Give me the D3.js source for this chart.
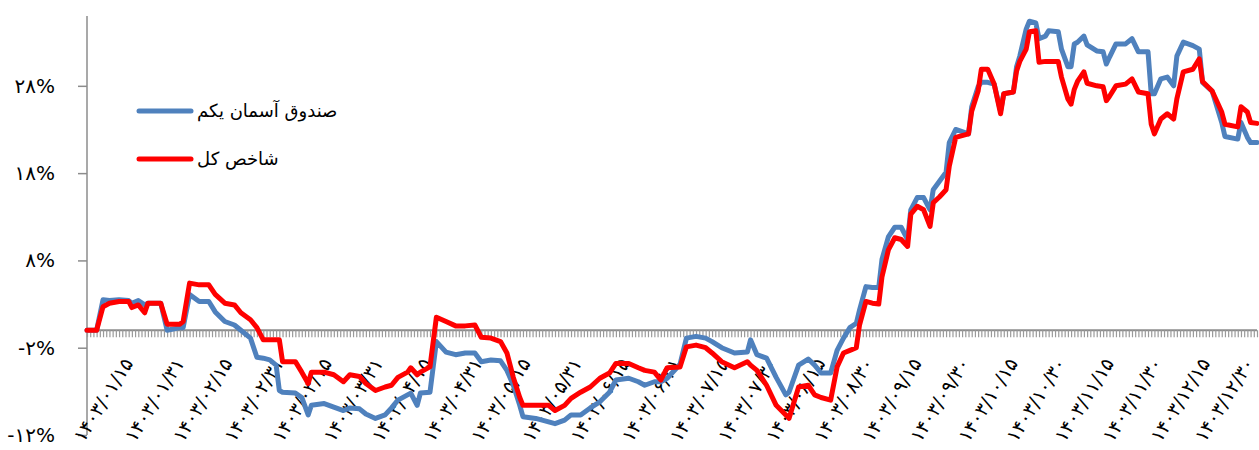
<!DOCTYPE html>
<html><head><meta charset="utf-8">
<script src="https://cdn.jsdelivr.net/npm/d3@7/dist/d3.min.js"></script>
<style>body{margin:0;background:#fff;} svg{display:block;}</style>
</head><body>
<svg id="chart" width="1259" height="450"></svg>
<script>
// Day index within year 1403 (0 = 1403/01/01 ... 365 = 1403/12/30)
const days = [0,3,5,7,10,13,14,16,18,19,23,25,29,30,32,35,38,40,43,46,48,51,53,55,57,59,60,61,65,67,69,70,74,77,80,82,85,87,90,93,95,97,100,101,103,104,107,109,112,115,118,121,123,126,129,131,133,135,136,140,144,146,149,151,154,157,160,163,165,169,172,174,177,179,181,185,187,190,193,195,198,202,206,207,209,212,215,218,219,222,225,227,229,232,234,236,238,240,241,243,245,247,248,250,252,254,256,257,259,261,263,264,266,268,269,271,275,276,278,279,281,283,285,286,289,290,291,293,294,296,297,299,300,303,304,306,307,308,309,311,312,315,317,318,319,321,324,326,328,331,332,333,335,337,339,340,342,345,347,348,351,354,355,359,360,362,363,365];
// صندوق آسمان یکم (%)
const fundValues = [0,0,3.5,3.4,3.5,3.4,3.1,3.4,2.9,3.1,3.1,0.0,0.3,0.3,4.1,3.3,3.3,2.1,1.0,0.6,0.0,-0.9,-3.1,-3.2,-3.4,-4.0,-6.9,-7.1,-7.2,-7.7,-9.7,-8.6,-8.4,-8.8,-9.2,-8.9,-9.0,-9.6,-10.1,-9.7,-8.9,-8.0,-7.4,-7.2,-8.6,-7.2,-7.1,-1.3,-2.5,-2.8,-2.6,-2.6,-3.6,-3.4,-3.5,-4.6,-6.3,-8.6,-9.9,-10.1,-10.5,-10.7,-10.3,-9.7,-9.7,-8.9,-8.2,-7.1,-5.7,-5.5,-5.9,-6.3,-5.9,-5.9,-5.5,-3.9,-0.9,-0.7,-0.9,-1.3,-2.0,-2.6,-2.5,-1.1,-2.8,-3.2,-5.4,-7.4,-7.1,-4.0,-3.3,-4.0,-4.9,-4.9,-2.3,-0.9,0.3,0.8,2.3,5.0,4.9,4.9,8.1,10.7,11.8,11.8,10.4,13.8,15.2,15.2,13.8,16.1,17.1,18.1,21.5,23.0,22.5,25.6,27.9,28.4,28.4,28.2,25.1,27.1,27.3,30.2,31.4,34.5,35.4,35.2,33.4,33.7,34.3,34.2,32.2,30.2,30.2,32.8,33.0,33.7,32.7,32.0,31.9,30.5,31.3,32.8,32.8,33.4,31.9,31.9,27.1,27.1,28.8,29.0,28.0,31.4,33.0,32.6,32.2,28.4,27.4,23.8,22.2,21.9,23.8,22.1,21.5,21.5];
// شاخص کل (%)
const indexValues = [0,0,2.7,3.1,3.3,3.3,2.6,2.9,2.0,3.1,3.1,0.7,0.7,1.0,5.4,5.2,5.2,4.1,3.1,2.9,2.0,1.2,0.3,-1.1,-1.1,-1.1,-1.1,-3.6,-3.6,-4.8,-6.1,-4.8,-4.8,-5.1,-5.9,-5.1,-5.3,-6.1,-6.9,-6.5,-6.3,-5.4,-4.8,-4.3,-5.1,-4.8,-4.2,1.5,1.0,0.5,0.5,0.6,-0.8,-0.9,-1.3,-2.6,-5.4,-7.7,-8.6,-8.6,-8.6,-9.2,-8.6,-7.8,-7.1,-6.5,-5.5,-4.9,-3.8,-3.8,-4.3,-4.6,-4.8,-5.7,-4.3,-4.2,-1.9,-1.7,-2.0,-2.6,-3.6,-4.3,-3.6,-4.0,-4.6,-6.3,-8.6,-9.7,-10.1,-6.5,-6.3,-7.4,-7.7,-8.0,-4.2,-2.6,-2.3,-2.0,0.6,3.3,3.1,3.0,6.1,9.2,10.6,10.4,9.6,13.3,14.2,13.8,11.9,14.6,15.3,16.1,18.8,22.1,22.5,25.1,27.4,29.9,29.9,28.2,24.8,27.1,27.3,29.7,30.8,32.2,34.2,34.3,30.7,30.8,30.8,30.8,29.0,26.5,25.9,27.6,28.5,29.6,28.3,28.0,27.9,26.3,26.8,28.0,28.2,28.8,27.3,27.1,23.6,22.5,24.2,24.8,24.2,26.5,29.6,29.9,31.1,28.5,27.4,25.0,23.6,23.3,25.6,25.0,23.8,23.7];
const seriesNames = ["صندوق آسمان یکم", "شاخص کل"];
const seriesColors = ["#4F81BD", "#FF0000"];
const yTicks = [-12, -2, 8, 18, 28];
const xTickDays = [14,30,45,61,76,92,107,123,138,154,169,185,200,215,230,245,260,275,290,305,320,335,350,365];
const xTickLabels = ["۱۴۰۳/۰۱/۱۵","۱۴۰۳/۰۱/۳۱","۱۴۰۳/۰۲/۱۵","۱۴۰۳/۰۲/۳۱","۱۴۰۳/۰۳/۱۵","۱۴۰۳/۰۳/۳۱","۱۴۰۳/۰۴/۱۵","۱۴۰۳/۰۴/۳۱","۱۴۰۳/۰۵/۱۵","۱۴۰۳/۰۵/۳۱","۱۴۰۳/۰۶/۱۵","۱۴۰۳/۰۶/۳۱","۱۴۰۳/۰۷/۱۵","۱۴۰۳/۰۷/۳۰","۱۴۰۳/۰۸/۱۵","۱۴۰۳/۰۸/۳۰","۱۴۰۳/۰۹/۱۵","۱۴۰۳/۰۹/۳۰","۱۴۰۳/۱۰/۱۵","۱۴۰۳/۱۰/۳۰","۱۴۰۳/۱۱/۱۵","۱۴۰۳/۱۱/۳۰","۱۴۰۳/۱۲/۱۵","۱۴۰۳/۱۲/۳۰"];

const toFa = s => String(s).replace(/\d/g, d => "۰۱۲۳۴۵۶۷۸۹"[+d]);
const FONT = "'DejaVu Sans', 'Noto Sans', sans-serif";
const AXIS = "#8c8c8c";

const svg = d3.select("#chart");
const x = d3.scaleLinear().domain([0, 365]).range([87, 1257]);
const y = d3.scaleLinear().domain([-12, 36]).range([435, 16]);

// Y axis
const yAxis = svg.append("g").attr("transform", "translate(87,0)")
  .call(d3.axisLeft(y).tickValues(yTicks).tickSize(9).tickPadding(23)
        .tickFormat(v => toFa(v) + "%"));
yAxis.select(".domain").attr("d", `M0,${y(36)}V${y(-12)}`).attr("stroke", AXIS).attr("stroke-width", 1.5);
yAxis.selectAll(".tick line").attr("stroke", AXIS).attr("stroke-width", 1.5);
yAxis.selectAll(".tick text").attr("font-family", FONT).attr("font-size", 20).attr("fill", "#000");

// X axis at zero with daily tick marks
const allDays = d3.range(0, 366);
const xAxisG = svg.append("g").attr("transform", `translate(0,${y(0)})`);
xAxisG.call(d3.axisBottom(x).tickValues(allDays).tickSize(7).tickFormat(""));
xAxisG.select(".domain").attr("d", `M${x(0)},0H${x(365)}`).attr("stroke", AXIS).attr("stroke-width", 2);
xAxisG.selectAll(".tick line").attr("stroke", "#9a9a9a").attr("stroke-width", 1.2);

// X tick labels (rotated)
const xl = svg.append("g");
xTickDays.forEach((d, i) => {
  const ax = Math.min(x(d) + 2, 1255);
  xl.append("text")
    .attr("transform", `translate(${ax},${y(0) + 33}) rotate(-58)`)
    .attr("text-anchor", "end")
    .attr("font-family", FONT).attr("font-size", 19).attr("fill", "#000")
    .text(xTickLabels[i]);
});

// Lines
const line = d3.line().x(d => x(d[0])).y(d => y(d[1]));
[fundValues, indexValues].forEach((vals, k) => {
  svg.append("path")
    .datum(days.map((d, i) => [d, vals[i]]))
    .attr("d", line)
    .attr("fill", "none")
    .attr("stroke", seriesColors[k])
    .attr("stroke-width", 5)
    .attr("stroke-linejoin", "round")
    .attr("stroke-linecap", "round");
});

// Legend
const legendY = [111, 159];
seriesNames.forEach((name, k) => {
  svg.append("line").attr("x1", 139).attr("x2", 191)
    .attr("y1", legendY[k]).attr("y2", legendY[k])
    .attr("stroke", seriesColors[k]).attr("stroke-width", 5).attr("stroke-linecap", "round");
  svg.append("text").attr("x", 197).attr("y", legendY[k]).attr("dy", "0.35em")
    .attr("font-family", FONT).attr("font-size", 18).attr("fill", "#000")
    .text(name);
});
</script>
</body></html>
